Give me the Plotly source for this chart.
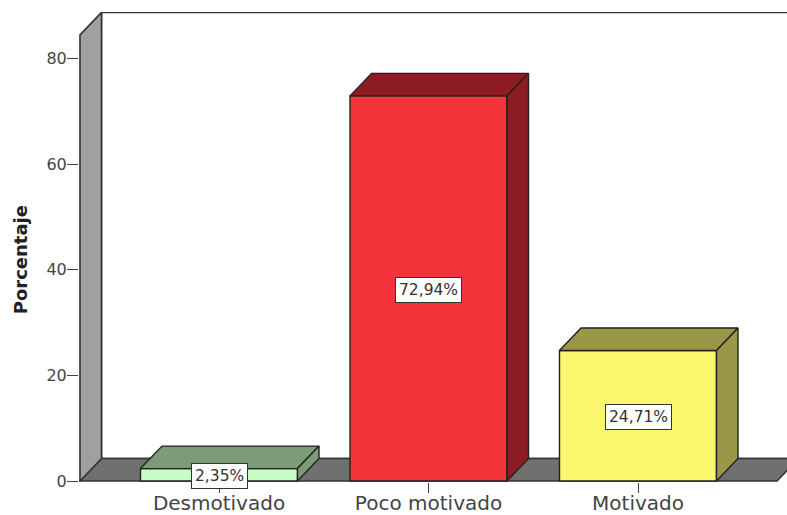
import plotly.graph_objects as go

categories = ["Desmotivado", "Poco motivado", "Motivado"]
values = [2.35, 72.94, 24.71]
labels = ["2,35%", "72,94%", "24,71%"]
front_colors = ["#c8fdc8", "#f4333a", "#faf76c"]
dark_colors = ["#7c9c78", "#8c1c22", "#9a9848"]
y_ticks = [0, 20, 40, 60, 80]

PX_X = 209.5      # pixels per category
PX_Y = 5.28       # pixels per percent
DX = 21.5 / PX_X  # depth offset
DY = 22.5 / PX_Y
BAR_W = 157 / PX_X
EDGE = "#222222"
TEXT = "#444444"
FONT = "DejaVu Sans"
X0 = -139 / PX_X  # front left corner of the floor
Y_TOP = 84.5      # top of the left wall, front edge
X_END = 558 / PX_X  # front right corner of the floor

fig = go.Figure()

fig.add_trace(go.Bar(
    x=[0, 1, 2], y=values, width=BAR_W, marker=dict(color=front_colors, line=dict(color=EDGE, width=1.4)),
    hoverinfo="skip", showlegend=False))

for i, v in enumerate(values):
    l, r = i - BAR_W / 2, i + BAR_W / 2
    fig.add_trace(go.Scatter(
        x=[l, l + DX, r + DX, r, l], y=[v, v + DY, v + DY, v, v], mode="lines", fill="toself",
        fillcolor=dark_colors[i], line=dict(color=EDGE, width=1.4), hoverinfo="skip", showlegend=False))
    fig.add_trace(go.Scatter(
        x=[r, r + DX, r + DX, r, r], y=[v, v + DY, DY, 0, v], mode="lines", fill="toself",
        fillcolor=dark_colors[i], line=dict(color=EDGE, width=1.4), hoverinfo="skip", showlegend=False))


def poly(xs, ys, fill):
    path = "M " + " L ".join(f"{a},{b}" for a, b in zip(xs, ys)) + " Z"
    return dict(type="path", path=path, xref="x", yref="y", fillcolor=fill,
                line=dict(color="#333333", width=1.6), layer="below")


shapes = [
    poly([X0 + DX, 3.2, 3.2, X0 + DX], [DY, DY, Y_TOP + DY, Y_TOP + DY], "#ffffff"),
    poly([X0, X0 + DX, X_END + DX, X_END], [0, DY, DY, 0], "#707070"),
    poly([X0, X0 + DX, X0 + DX, X0], [0, DY, Y_TOP + DY, Y_TOP], "#a0a0a0"),
]

annotations = [
    dict(x=i, y=v / 2 - 0.3, xref="x", yref="y", text=labels[i], showarrow=False,
         font=dict(family=FONT, size=15.5, color="#333333"),
         bgcolor="#ffffff", bordercolor="#333333", borderwidth=1, borderpad=3)
    for i, v in enumerate(values)
]
annotations.append(dict(
    x=(8 - 79) / 708, y=41.9, xref="paper", yref="y", text="<b>Porcentaje</b>", textangle=-90,
    showarrow=False, font=dict(family=FONT, size=18, color="#222222")))

fig.update_layout(
    width=787, height=515, autosize=False,
    margin=dict(l=79, r=0, t=12, b=33),
    paper_bgcolor="#ffffff", plot_bgcolor="#ffffff",
    showlegend=False, shapes=shapes, annotations=annotations,
    xaxis=dict(range=[-140 / PX_X, 568 / PX_X], tickvals=[0, 1, 2], ticktext=categories, automargin=False,
               ticks="outside", ticklen=10, tickwidth=1.4, tickcolor=TEXT, showgrid=False, zeroline=False,
               showline=False, ticklabelstandoff=-7, tickfont=dict(family=FONT, size=20, color=TEXT)),
    yaxis=dict(range=[-1 / PX_Y, 469 / PX_Y], tickvals=y_ticks, automargin=False,
               ticks="outside", ticklen=11, tickwidth=1.4, tickcolor=TEXT, showgrid=False, zeroline=False,
               showline=False, ticklabelstandoff=-3, tickfont=dict(family=FONT, size=16, color=TEXT)),
)

fig.write_html("out.html", config={"displayModeBar": False},
               post_script="document.body.style.margin='0';document.body.style.overflow='hidden';")
